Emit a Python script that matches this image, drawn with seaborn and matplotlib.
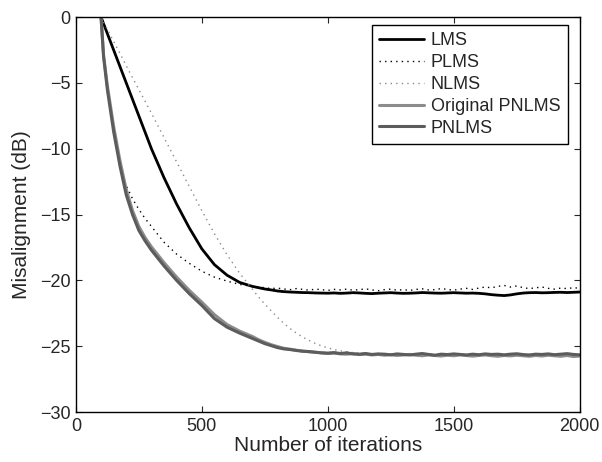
import numpy as np
import pandas as pd
import matplotlib
matplotlib.use('Agg')
import matplotlib.pyplot as plt
import seaborn as sns

# Iteration axis: fine steps in the transient, every 25 on the plateau
iters = [100, 110, 125, 150, 175, 200, 225, 250, 275, 300, 350, 400, 450,
         500, 550, 600, 650, 700] + list(range(725, 2001, 25))

# Misalignment curves (dB)
lms = [0, -0.5, -1.25, -2.5, -3.75, -5.0, -6.25, -7.5, -8.75, -10.0, -12.2,
       -14.2, -16.0, -17.6, -18.8, -19.6, -20.15, -20.45,
       -20.55, -20.65, -20.72, -20.8, -20.85, -20.88, -20.9, -20.92, -20.93, -20.95,
       -20.96, -20.97, -20.95, -20.98, -20.96, -20.93, -20.95, -20.98, -21.0, -20.97,
       -20.95, -20.93, -20.96, -20.98, -20.97, -20.95, -20.92, -20.94, -20.96, -20.97,
       -20.95, -20.93, -20.95, -20.97, -20.96, -20.98, -21.02, -21.08, -21.12, -21.15,
       -21.1, -21.02, -20.96, -20.93, -20.92, -20.94, -20.93, -20.91, -20.9, -20.92,
       -20.9, -20.88]

plms = [0, -3.0, -5.5, -8.7, -11.3, -12.8, -13.8, -14.6, -15.3, -15.9, -17.1,
        -18.0, -18.7, -19.3, -19.75, -20.05, -20.3, -20.45,
        -20.5, -20.55, -20.62, -20.58, -20.65, -20.7, -20.62, -20.68, -20.74, -20.66,
        -20.7, -20.76, -20.68, -20.72, -20.66, -20.74, -20.7, -20.64, -20.72, -20.78,
        -20.7, -20.66, -20.74, -20.7, -20.76, -20.68, -20.64, -20.72, -20.7, -20.62,
        -20.68, -20.74, -20.66, -20.6, -20.68, -20.58, -20.5, -20.56, -20.45, -20.38,
        -20.5, -20.42, -20.55, -20.62, -20.56, -20.5, -20.6, -20.66, -20.58, -20.62,
        -20.55, -20.6]

nlms = [0, -0.37, -0.93, -1.85, -2.75, -3.7, -4.6, -5.5, -6.4, -7.3, -9.15,
        -11.0, -12.85, -14.7, -16.45, -18.05, -19.45, -20.65,
        -21.25, -21.8, -22.3, -22.8, -23.25, -23.65, -24.0, -24.3, -24.55, -24.78,
        -24.97, -25.12, -25.25, -25.35, -25.42, -25.48, -25.52, -25.55, -25.58, -25.6,
        -25.62, -25.6, -25.64, -25.62, -25.6, -25.65, -25.62, -25.6, -25.64, -25.62,
        -25.66, -25.63, -25.6, -25.64, -25.62, -25.66, -25.6, -25.63, -25.65, -25.62,
        -25.6, -25.64, -25.66, -25.62, -25.6, -25.64, -25.62, -25.65, -25.6, -25.62,
        -25.64, -25.62]

orig_pnlms = [0, -2.9, -5.2, -8.3, -10.9, -13.1, -14.7, -15.9, -16.75, -17.45,
              -18.65, -19.75, -20.75, -21.65, -22.6, -23.35, -23.85, -24.25,
              -24.5, -24.7, -24.88, -25.02, -25.15, -25.22, -25.3, -25.36, -25.42, -25.46,
              -25.5, -25.55, -25.52, -25.58, -25.6, -25.56, -25.63, -25.6, -25.66, -25.62,
              -25.68, -25.64, -25.7, -25.66, -25.62, -25.68, -25.72, -25.66, -25.7, -25.74,
              -25.68, -25.72, -25.66, -25.7, -25.75, -25.7, -25.66, -25.72, -25.76, -25.7,
              -25.73, -25.68, -25.72, -25.76, -25.7, -25.74, -25.68, -25.72, -25.76, -25.7,
              -25.78, -25.74]

pnlms = [0, -3.0, -5.5, -8.7, -11.3, -13.5, -15.0, -16.2, -17.0, -17.7, -18.9,
         -20.0, -21.0, -21.9, -22.9, -23.55, -24.0, -24.4,
         -24.6, -24.8, -24.95, -25.1, -25.2, -25.25, -25.32, -25.38, -25.4, -25.45,
         -25.5, -25.52, -25.48, -25.55, -25.5, -25.58, -25.6, -25.55, -25.62, -25.58,
         -25.6, -25.65, -25.58, -25.62, -25.66, -25.6, -25.55, -25.62, -25.68, -25.6,
         -25.63, -25.58, -25.62, -25.66, -25.6, -25.64, -25.58, -25.62, -25.6, -25.65,
         -25.6, -25.57, -25.63, -25.66, -25.6, -25.62, -25.58, -25.64, -25.6, -25.56,
         -25.62, -25.65]

names = ['LMS', 'PLMS', 'NLMS', 'Original PNLMS', 'PNLMS']
series = [lms, plms, nlms, orig_pnlms, pnlms]

df = pd.DataFrame({'iter': iters * len(names),
                   'mis': np.concatenate(series),
                   'algo': np.repeat(names, len(iters))})

styles = {
    'LMS': dict(color='black', lw=2.0, ls='-'),
    'PLMS': dict(color='black', lw=1.0, ls=(0, (1, 3))),
    'NLMS': dict(color='#8a8a8a', lw=1.0, ls=(0, (1, 3))),
    'Original PNLMS': dict(color='#8c8c8c', lw=2.2, ls='-'),
    'PNLMS': dict(color='#5c5c5c', lw=2.2, ls='-'),
}

sns.set_style('ticks')
plt.rcParams['font.family'] = ['Liberation Sans', 'DejaVu Sans']

fig, ax = plt.subplots(figsize=(6.02, 4.62), dpi=100)
fig.subplots_adjust(left=0.126, right=0.963, top=0.963, bottom=0.108)

for name in names:
    st = styles[name]
    sns.lineplot(data=df[df['algo'] == name], x='iter', y='mis', ax=ax,
                 color=st['color'], linewidth=st['lw'], linestyle=st['ls'],
                 label=name, estimator=None, sort=False)

ax.set_xlim(0, 2000)
ax.set_ylim(-30, 0)
ax.set_xticks([0, 500, 1000, 1500, 2000])
ax.set_yticks([0, -5, -10, -15, -20, -25, -30])
ax.tick_params(direction='in', top=True, right=True, length=4, width=0.8,
               labelsize=13, pad=4)
for sp in ax.spines.values():
    sp.set_visible(True)
    sp.set_linewidth(1.0)
    sp.set_color('black')

ax.set_xlabel('Number of iterations', fontsize=15, labelpad=1)
ax.set_ylabel('Misalignment (dB)', fontsize=15, labelpad=6)

leg = ax.legend(loc='upper right', bbox_to_anchor=(0.976, 0.98),
                borderaxespad=0, fontsize=13, frameon=True, fancybox=False,
                framealpha=1, edgecolor='black', handlelength=2.5,
                handletextpad=0.35, labelspacing=0.27, borderpad=0.4)
leg.get_frame().set_linewidth(1.0)

fig.savefig('out.png', dpi=100)
